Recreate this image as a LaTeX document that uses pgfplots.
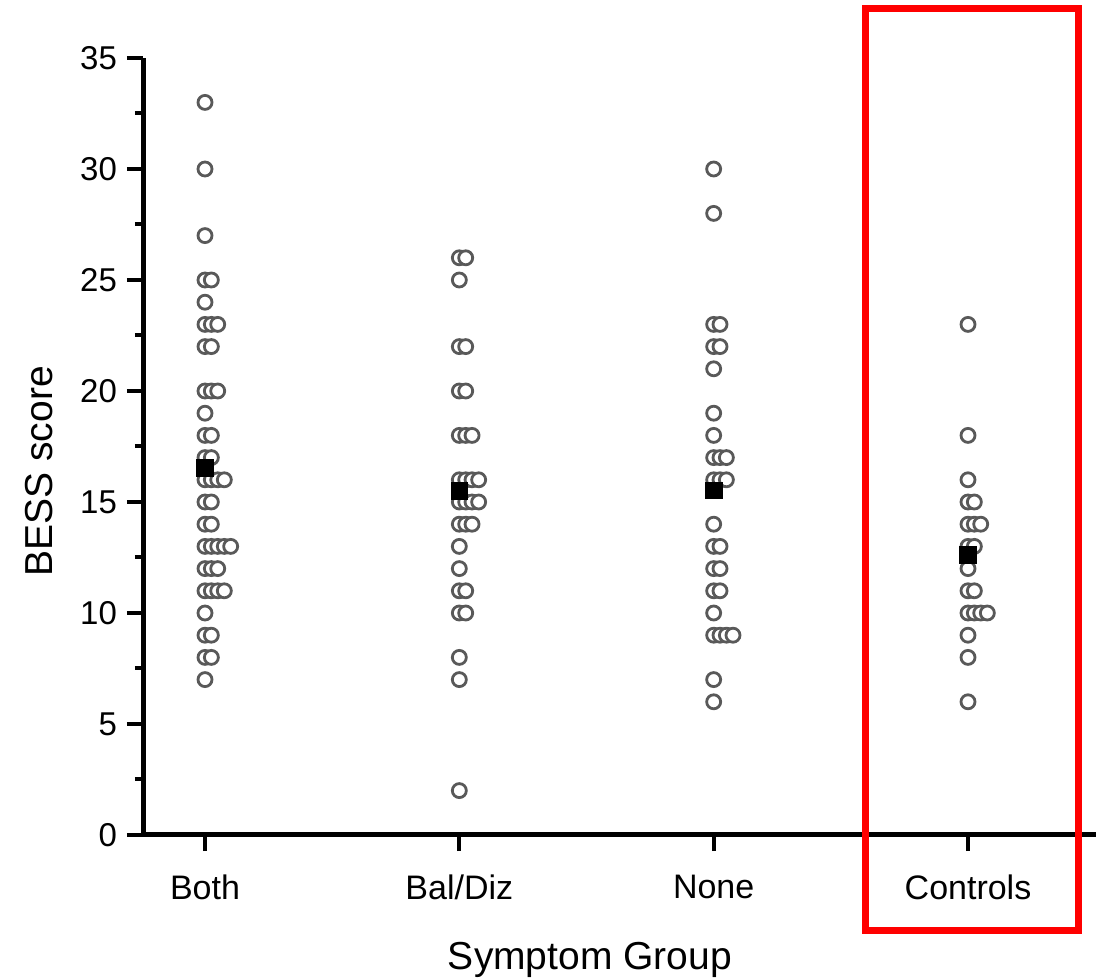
\documentclass[border=0pt]{standalone}
\usepackage{pgfplots}
\pgfplotsset{compat=1.18}
\usepackage{pgfplotstable}
\usepackage{fontspec}
\setmainfont{Liberation Sans}

\pgfplotstableread{
x y
0 33
0 30
0 27
0 25
0.025 25
0 24
0 23
0.025 23
0.050 23
0 22
0.025 22
0 20
0.025 20
0.050 20
0 19
0 18
0.025 18
0 17
0.025 17
0 16
0.025 16
0.050 16
0.076 16
0 15
0.025 15
0 14
0.025 14
0 13
0.025 13
0.050 13
0.076 13
0.101 13
0 12
0.025 12
0.050 12
0 11
0.025 11
0.050 11
0.076 11
0 10
0 9
0.025 9
0 8
0.025 8
0 7
}\both

\pgfplotstableread{
x y
1 26
1.025 26
1 25
1 22
1.025 22
1 20
1.025 20
1 18
1.025 18
1.050 18
1 16
1.025 16
1.050 16
1.076 16
1 15
1.025 15
1.050 15
1.076 15
1 14
1.025 14
1.050 14
1 13
1 12
1 11
1.025 11
1 10
1.025 10
1 8
1 7
1 2
}\baldiz

\pgfplotstableread{
x y
2 30
2 28
2 23
2.025 23
2 22
2.025 22
2 21
2 19
2 18
2 17
2.025 17
2.050 17
2 16
2.025 16
2.050 16
2 14
2 13
2.025 13
2 12
2.025 12
2 11
2.025 11
2 10
2 9
2.025 9
2.050 9
2.076 9
2 7
2 6
}\none

\pgfplotstableread{
x y
3 23
3 18
3 16
3 15
3.025 15
3 14
3.025 14
3.050 14
3 13
3.025 13
3 12
3 11
3.025 11
3 10
3.025 10
3.050 10
3.076 10
3 9
3 8
3 6
}\controls

\pgfplotstableread{
x y
0 16.53
1 15.5
2 15.52
3 12.6
}\means

\begin{document}
\begin{tikzpicture}
\path[use as bounding box] (-71.5pt,-71.5pt) rectangle (476.5pt,417.5pt);
\begin{axis}[
  at={(0pt,0pt)}, anchor=south west,
  scale only axis,
  width=476.5pt, height=388.5pt,
  xmin=-0.24378, xmax=3.5033,
  ymin=0, ymax=35,
  clip=false,
  axis x line*=bottom, axis y line*=left,
  axis line style={line width=2.5pt},
  xtick={0,1,2,3},
  xticklabels={Both,Bal/Diz,None,Controls},
  ytick={0,5,...,35},
  minor ytick={2.5,7.5,...,32.5},
  tick align=outside,
  major tick length=8pt,
  minor tick length=4pt,
  every tick/.style={black, line width=2pt},
  /pgf/number format/assume math mode=true,
  yticklabel style={font=\fontsize{16.5}{19}\selectfont, xshift=-1.5pt},
  xticklabel style={font=\fontsize{17}{20}\selectfont, yshift=-8.5pt},
  xlabel={Symptom Group},
  ylabel={BESS score},
  xlabel style={font=\fontsize{19.5}{23}\selectfont, at={(axis description cs:0.469,-0.1737)}, anchor=base},
  ylabel style={font=\fontsize{19.5}{23}\selectfont, at={(axis description cs:-0.1091,0.468)}, anchor=center, rotate=0},
]
\addplot[only marks, mark=*, mark size=3.5pt, mark options={draw=black!65, fill=white, line width=1.4pt}] table[x=x,y=y] {\both};
\addplot[only marks, mark=*, mark size=3.5pt, mark options={draw=black!65, fill=white, line width=1.4pt}] table[x=x,y=y] {\baldiz};
\addplot[only marks, mark=*, mark size=3.5pt, mark options={draw=black!65, fill=white, line width=1.4pt}] table[x=x,y=y] {\none};
\addplot[only marks, mark=*, mark size=3.5pt, mark options={draw=black!65, fill=white, line width=1.4pt}] table[x=x,y=y] {\controls};
\addplot[only marks, mark=square*, mark size=4.2pt, mark options={draw=black, fill=black}] table[x=x,y=y] {\means};
\draw[red, line width=3.5pt] (axis cs:2.597,37.23) rectangle (axis cs:3.4345,-4.30);
\end{axis}
\end{tikzpicture}
\end{document}
